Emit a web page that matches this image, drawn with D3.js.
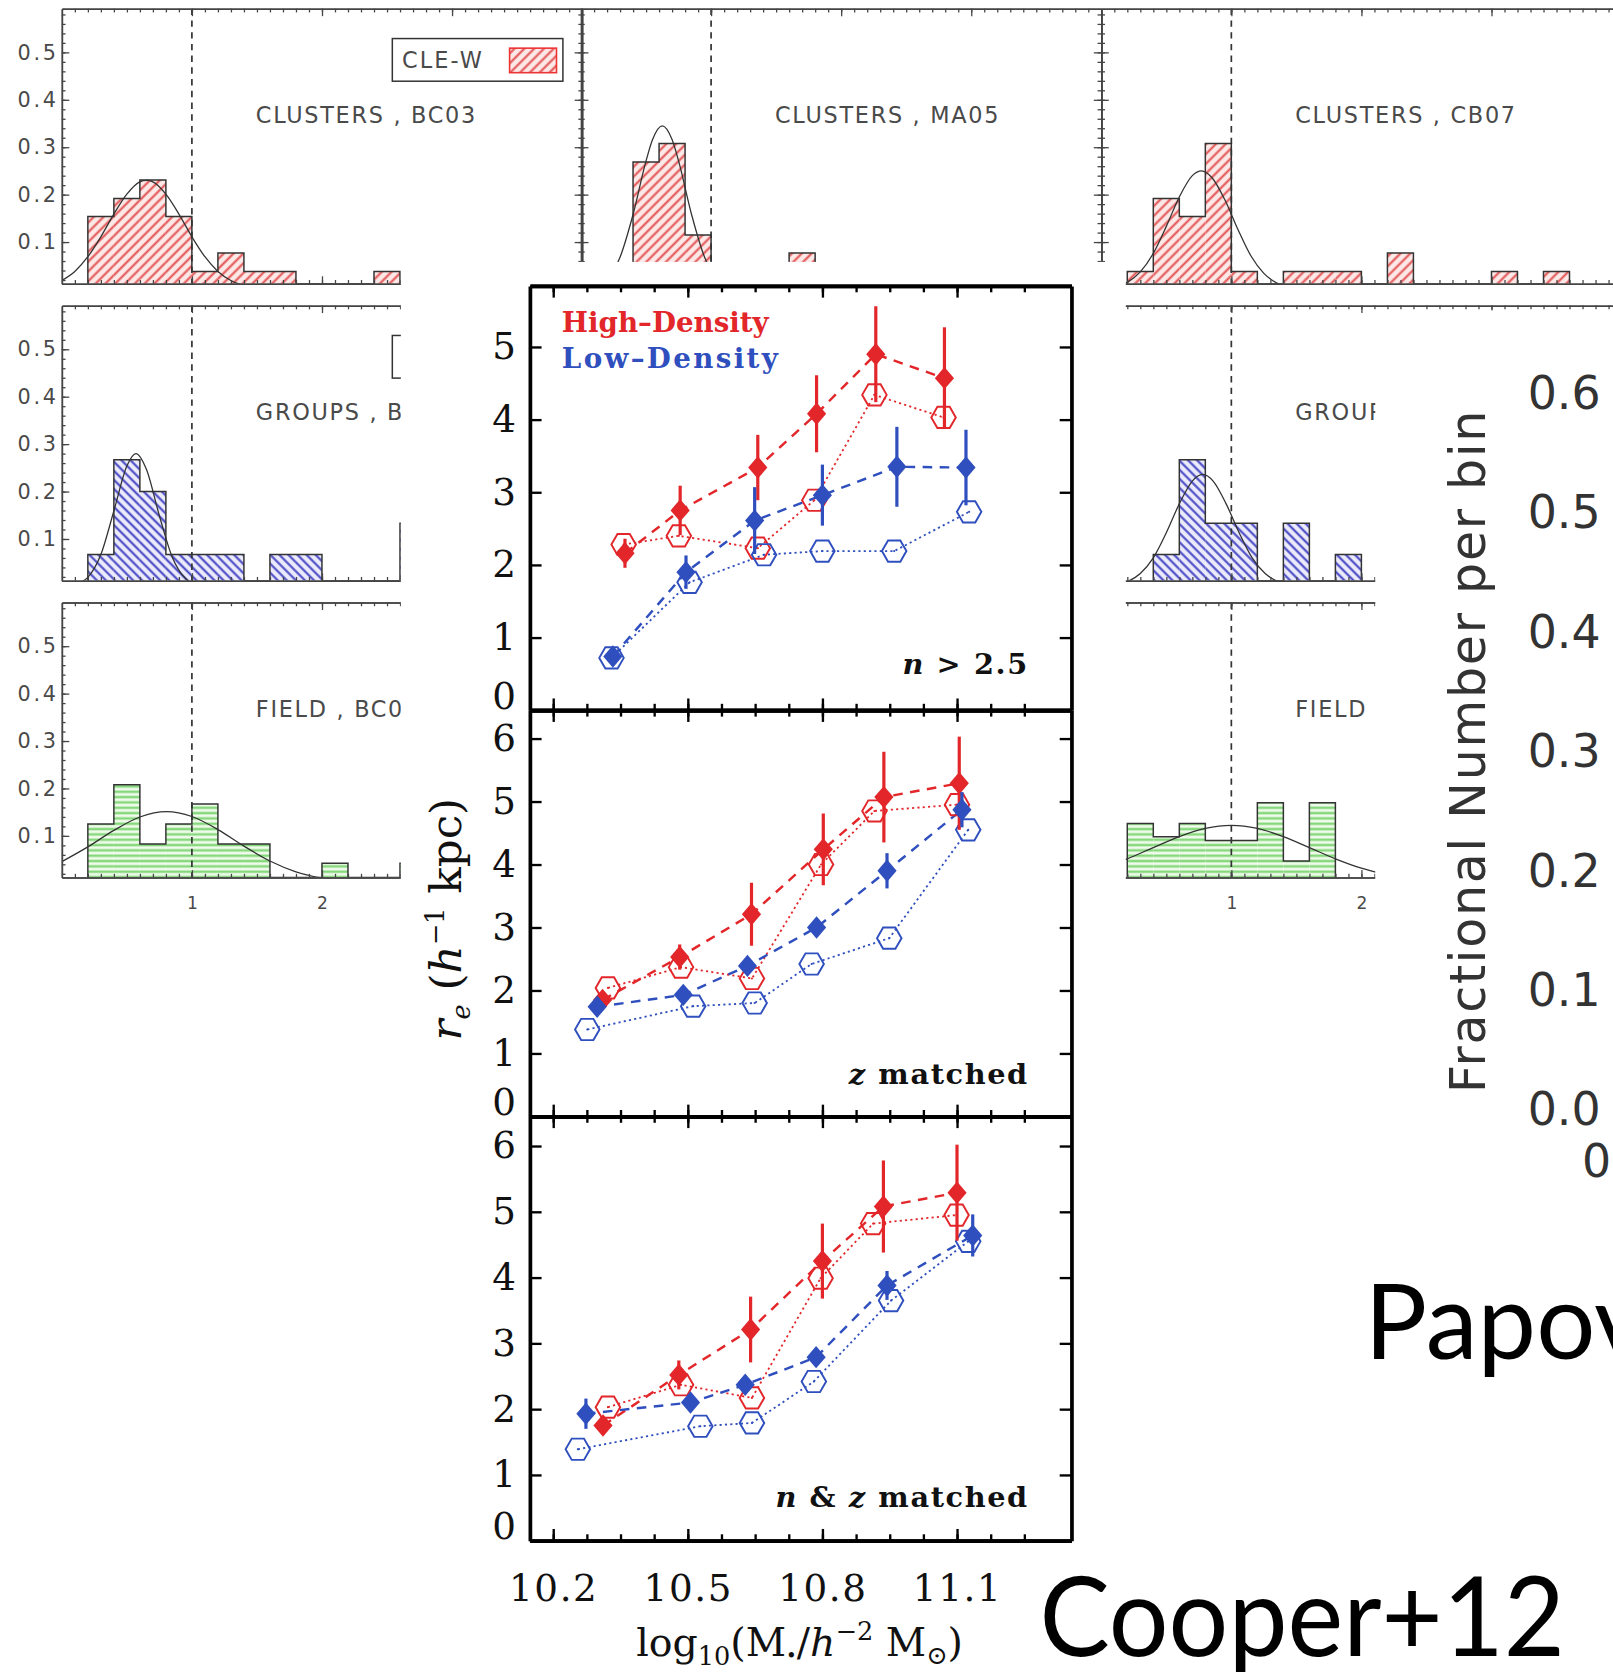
<!DOCTYPE html>
<html>
<head>
<meta charset="utf-8">
<script src="https://cdn.jsdelivr.net/npm/d3@7"></script>
<style>
body { margin: 0; background: #fff; }
svg { display: block; }
</style>
</head>
<body>
<script>
// ---------------- histogram panels (fraction per 0.2-wide bin) ----------------
var binWidth = 0.2;
var clustersBC03 = [[0.2,0.154],[0.4,0.192],[0.6,0.231],[0.8,0.154],[1.0,0.038],[1.2,0.077],[1.4,0.038],[1.6,0.038],[2.4,0.038]];
var clustersMA05 = [[0.4,0.269],[0.6,0.308],[0.8,0.115],[1.6,0.077]];
var clustersCB07 = [[0.2,0.038],[0.4,0.192],[0.6,0.154],[0.8,0.308],[1.0,0.038],[1.4,0.038],[1.6,0.038],[1.8,0.038],[2.2,0.077],[3.0,0.038],[3.4,0.038]];
var groupsBC03 = [[0.2,0.067],[0.4,0.267],[0.6,0.2],[0.8,0.067],[1.0,0.067],[1.2,0.067],[1.6,0.067],[1.8,0.067],[2.6,0.133]];
var groupsCB07 = [[0.4,0.067],[0.6,0.267],[0.8,0.133],[1.0,0.133],[1.4,0.133],[1.8,0.067]];
var fieldBC03 = [[0.2,0.125],[0.4,0.208],[0.6,0.083],[0.8,0.125],[1.0,0.167],[1.2,0.083],[1.4,0.083],[2.0,0.042],[2.6,0.042]];
var fieldCB07 = [[0.2,0.126],[0.4,0.098],[0.6,0.126],[0.8,0.09],[1.0,0.09],[1.2,0.17],[1.4,0.047],[1.6,0.17]];

// gaussian fit curves
var fitClustersBC03 = [[0,0.019],[0.1,0.038],[0.2,0.069],[0.3,0.111],[0.4,0.159],[0.5,0.201],[0.6,0.227],[0.65,0.23],[0.7,0.227],[0.8,0.201],[0.9,0.159],[1.0,0.111],[1.1,0.069],[1.2,0.038],[1.3,0.019],[1.4,0.008]];
var fitClustersMA05 = [[0.2,0.021],[0.3,0.068],[0.4,0.158],[0.5,0.271],[0.55,0.316],[0.625,0.345],[0.7,0.316],[0.75,0.271],[0.85,0.158],[0.95,0.068],[1.05,0.021],[1.15,0.005]];
var fitClustersCB07 = [[0,0.0015],[0.1,0.005],[0.2,0.015],[0.3,0.037],[0.4,0.076],[0.5,0.133],[0.6,0.195],[0.7,0.24],[0.77,0.25],[0.85,0.236],[0.95,0.189],[1.05,0.127],[1.15,0.071],[1.25,0.034],[1.35,0.0135],[1.45,0.0045]];
var fitGroupsBC03 = [[0.15,0.009],[0.2,0.019],[0.3,0.067],[0.4,0.159],[0.5,0.254],[0.57,0.28],[0.65,0.247],[0.75,0.149],[0.85,0.061],[0.95,0.017],[1.05,0.003]];
var fitGroupsCB07 = [[0.1,0.003],[0.2,0.0098],[0.3,0.027],[0.4,0.06],[0.5,0.113],[0.6,0.174],[0.7,0.222],[0.78,0.236],[0.86,0.222],[0.96,0.174],[1.06,0.113],[1.16,0.06],[1.26,0.027],[1.36,0.0098],[1.46,0.003]];
var fitFieldBC03 = [[0,0.0456],[0.2,0.0767],[0.4,0.1115],[0.6,0.1397],[0.805,0.151],[1.0,0.1408],[1.2,0.1132],[1.4,0.0784],[1.6,0.047],[1.8,0.0242],[2.0,0.0108],[2.2,0.0041]];
var fitFieldCB07 = [[0,0.0318],[0.2,0.0516],[0.4,0.0752],[0.6,0.0984],[0.8,0.1156],[1.0,0.122],[1.2,0.1156],[1.4,0.0984],[1.6,0.0752],[1.8,0.0516],[2.0,0.0318],[2.2,0.0176],[2.4,0.0088]];

var histXTicks = [1, 2, 3];
var histYTicks = [0.1, 0.2, 0.3, 0.4, 0.5];

// ---------------- central figure: r_e vs stellar mass ----------------
// panel 1: n > 2.5
var hdFullX1 = [10.360, 10.483, 10.656, 10.787, 10.919, 11.072];
var hdFullY1 = [2.16, 2.75, 3.34, 4.08, 4.90, 4.57];
var hdFullE1 = [0.20, 0.34, 0.45, 0.53, 0.66, 0.70];
var hdOpenX1 = [10.357, 10.480, 10.656, 10.782, 10.916, 11.070];
var hdOpenY1 = [2.28, 2.40, 2.23, 2.89, 4.34, 4.03];
var ldFullX1 = [10.333, 10.496, 10.649, 10.800, 10.966, 11.120];
var ldFullY1 = [0.74, 1.90, 2.61, 2.96, 3.35, 3.34];
var ldFullE1 = [0.06, 0.23, 0.46, 0.42, 0.55, 0.52];
var ldOpenX1 = [10.330, 10.504, 10.670, 10.800, 10.960, 11.127];
var ldOpenY1 = [0.72, 1.76, 2.14, 2.19, 2.19, 2.73];
// panel 2: z matched
var hdFullX2 = [10.310, 10.482, 10.642, 10.802, 10.937, 11.105];
var hdFullY2 = [1.85, 2.53, 3.21, 4.24, 5.07, 5.29];
var hdFullE2 = [0.12, 0.20, 0.50, 0.57, 0.72, 0.74];
var hdOpenX2 = [10.322, 10.485, 10.643, 10.797, 10.916, 11.100];
var hdOpenY2 = [2.04, 2.37, 2.19, 4.00, 4.85, 4.95];
var ldFullX2 = [10.298, 10.490, 10.633, 10.787, 10.944, 11.111];
var ldFullY2 = [1.74, 1.93, 2.39, 3.00, 3.90, 4.87];
var ldFullE2 = [0.10, 0.10, 0.12, 0.12, 0.28, 0.28];
var ldOpenX2 = [10.276, 10.512, 10.649, 10.776, 10.949, 11.125];
var ldOpenY2 = [1.38, 1.75, 1.80, 2.42, 2.83, 4.55];
// panel 3: n & z matched
var hdFullX3 = [10.311, 10.480, 10.640, 10.800, 10.936, 11.100];
var hdFullY3 = [1.75, 2.52, 3.21, 4.25, 5.08, 5.29];
var hdFullE3 = [0.12, 0.22, 0.50, 0.57, 0.70, 0.73];
var hdOpenX3 = [10.322, 10.485, 10.643, 10.796, 10.913, 11.099];
var hdOpenY3 = [2.03, 2.37, 2.17, 3.99, 4.82, 4.95];
var ldFullX3 = [10.273, 10.506, 10.628, 10.786, 10.944, 11.135];
var ldFullY3 = [1.93, 2.10, 2.37, 2.79, 3.88, 4.64];
var ldFullE3 = [0.23, 0.10, 0.10, 0.12, 0.22, 0.32];
var ldOpenX3 = [10.255, 10.528, 10.643, 10.781, 10.953, 11.125];
var ldOpenY3 = [1.39, 1.74, 1.79, 2.42, 3.65, 4.55];

var massTicks = [10.2, 10.5, 10.8, 11.1];
var fracTicks = [0.0, 0.1, 0.2, 0.3, 0.4, 0.5, 0.6];

var RED = '#e2262a', BLUE = '#2f4fbe';

// everything is laid out in the coordinates of the 1513x1568 view
var svg = d3.select('body').append('svg')
	.attr('width', 1613).attr('height', 1672)
	.attr('viewBox', '0 0 1513 1568');
svg.append('rect').attr('width', 1513).attr('height', 1568).attr('fill', '#fff');

var defs = svg.append('defs');
function hatch(id, angle, gap, bg, stroke, sw) {
	var p = defs.append('pattern').attr('id', id)
		.attr('patternUnits', 'userSpaceOnUse')
		.attr('width', gap).attr('height', gap)
		.attr('patternTransform', 'rotate(' + angle + ')');
	p.append('rect').attr('width', gap).attr('height', gap).attr('fill', bg);
	p.append('line').attr('x1', gap / 2).attr('x2', gap / 2).attr('y1', 0).attr('y2', gap)
		.attr('stroke', stroke).attr('stroke-width', sw);
}
hatch('hRed', 45, 6.5, '#fde8e8', '#e25050', 1.9);
hatch('hBlue', -45, 6, '#eaeafb', '#4444c4', 1.9);
hatch('hGreen', 90, 5, '#effbea', '#86d87c', 2.3);

// ---------------- histograms ----------------
var HW = 488, HH = 258;
var hx = d3.scaleLinear().domain([0, 4]).range([0, HW]);
var hy = d3.scaleLinear().domain([0.012, 0.592]).range([HH, 0]);
var colX = [58, 545, 1033], rowY = [8, 286.5, 565];
var histGrey = '#444';

function styleAxis(a, width) {
	a.select('.domain').attr('stroke', histGrey).attr('stroke-width', width);
	a.selectAll('.tick line').attr('stroke', histGrey).attr('stroke-width', 1.2);
	a.selectAll('.tick text').attr('fill', '#4a4a4a')
		.style('font-family', 'DejaVu Sans').style('font-size', '16px');
}

function histPanel(col, row, bins, fit, fillId, label, showY, showX) {
	var g = svg.append('g').attr('transform', 'translate(' + colX[col] + ',' + rowY[row] + ')');
	var cid = 'clip' + col + row;
	g.append('clipPath').attr('id', cid).append('rect').attr('width', HW).attr('height', HH);
	var body = g.append('g').attr('clip-path', 'url(#' + cid + ')');

	body.selectAll('rect.bar').data(bins).enter().append('rect')
		.attr('class', 'bar')
		.attr('x', function (d) { return hx(d[0]); })
		.attr('width', hx(binWidth) - hx(0))
		.attr('y', function (d) { return hy(d[1]); })
		.attr('height', function (d) { return HH - hy(d[1]); })
		.attr('fill', 'url(#' + fillId + ')');

	// step outline
	var base = hy.domain()[0];
	var pts = [];
	bins.forEach(function (d, i) {
		var a = d[0], b = d[0] + binWidth;
		var prev = bins[i - 1], next = bins[i + 1];
		if (!prev || Math.abs(prev[0] + binWidth - a) > 1e-6) pts.push([a, base]);
		pts.push([a, d[1]], [b, d[1]]);
		if (!next || Math.abs(next[0] - b) > 1e-6) pts.push([b, base]);
	});
	body.append('path')
		.attr('d', d3.line().x(function (d) { return hx(d[0]); }).y(function (d) { return hy(d[1]); })(pts))
		.attr('fill', 'none').attr('stroke', '#333').attr('stroke-width', 1.4);

	body.append('path')
		.attr('d', d3.line().x(function (d) { return hx(d[0]); }).y(function (d) { return hy(d[1]); })
			.curve(d3.curveMonotoneX)(fit))
		.attr('fill', 'none').attr('stroke', '#333').attr('stroke-width', 1.2);

	body.append('line').attr('x1', hx(1)).attr('x2', hx(1)).attr('y1', 0).attr('y2', HH)
		.attr('stroke', '#333').attr('stroke-width', 1.6).attr('stroke-dasharray', '6,5');

	var xMinor = d3.range(1, 40).map(function (k) { return k / 10; });
	var yMinor = d3.range(1, 30).map(function (k) { return k / 50; });

	var b1 = g.append('g').attr('transform', 'translate(0,' + HH + ')')
		.call(d3.axisBottom(hx).tickValues(xMinor).tickSize(-3.5).tickSizeOuter(0).tickFormat(''));
	styleAxis(b1, 1.4);
	var b2 = g.append('g').attr('transform', 'translate(0,' + HH + ')')
		.call(d3.axisBottom(hx).tickValues(histXTicks).tickSize(-7).tickSizeOuter(0).tickPadding(18)
			.tickFormat(showX ? d3.format('d') : ''));
	styleAxis(b2, 1.4);
	var t1 = g.append('g').call(d3.axisTop(hx).tickValues(xMinor).tickSize(-3.5).tickSizeOuter(0).tickFormat(''));
	styleAxis(t1, 1.4);
	var t2 = g.append('g').call(d3.axisTop(hx).tickValues(histXTicks).tickSize(-7).tickSizeOuter(0).tickFormat(''));
	styleAxis(t2, 1.4);
	[[0, 'L'], [HW, 'R']].forEach(function (s) {
		var mk = s[1] === 'L' ? d3.axisLeft : d3.axisRight;
		var m1 = g.append('g').attr('transform', 'translate(' + s[0] + ',0)')
			.call(mk(hy).tickValues(yMinor).tickSize(-3.5).tickSizeOuter(0).tickFormat(''));
		styleAxis(m1, 1.4);
		var m2 = g.append('g').attr('transform', 'translate(' + s[0] + ',0)')
			.call(mk(hy).tickValues(histYTicks).tickSize(-7).tickSizeOuter(0).tickPadding(3)
				.tickFormat(showY && s[1] === 'L' ? d3.format('.1f') : ''));
		styleAxis(m2, 1.4);
		m2.selectAll('.tick text').style('font-size', '19.5px').style('letter-spacing', '2.5px');
	});

	g.append('text').attr('x', 182).attr('y', 107).text(label)
		.attr('fill', '#4a4a4a').style('font-family', 'DejaVu Sans').style('font-size', '21px')
		.style('letter-spacing', '1.6px');
	return g;
}

var h11 = histPanel(0, 0, clustersBC03, fitClustersBC03, 'hRed', 'CLUSTERS , BC03', true, false);
histPanel(1, 0, clustersMA05, fitClustersMA05, 'hRed', 'CLUSTERS , MA05', false, false);
histPanel(2, 0, clustersCB07, fitClustersCB07, 'hRed', 'CLUSTERS , CB07', false, false);
var h21 = histPanel(0, 1, groupsBC03, fitGroupsBC03, 'hBlue', 'GROUPS , BC03', true, false);
histPanel(2, 1, groupsCB07, fitGroupsCB07, 'hBlue', 'GROUPS , CB07', false, false);
histPanel(0, 2, fieldBC03, fitFieldBC03, 'hGreen', 'FIELD , BC03', true, true);
histPanel(2, 2, fieldCB07, fitFieldCB07, 'hGreen', 'FIELD , CB07', false, true);

// legend boxes
function legendBox(g, fillId, stroke, name) {
	var lg = g.append('g').attr('transform', 'translate(310,28)');
	lg.append('rect').attr('width', 160).attr('height', 40).attr('fill', '#fff')
		.attr('stroke', '#333').attr('stroke-width', 1.4);
	if (name) {
		lg.append('text').attr('x', 9).attr('y', 28).text(name)
			.attr('fill', '#4a4a4a').style('font-family', 'DejaVu Sans').style('font-size', '21px')
			.style('letter-spacing', '2px');
	}
	lg.append('rect').attr('x', 110).attr('y', 9).attr('width', 44).attr('height', 23)
		.attr('fill', 'url(#' + fillId + ')').attr('stroke', stroke).attr('stroke-width', 1.5);
}
legendBox(h11, 'hRed', '#e33', 'CLE-W');
legendBox(h21, 'hBlue', '#33c', null);

// white sheets of the pasted figures
svg.append('rect').attr('x', 376).attr('y', 245.5).attr('width', 680).attr('height', 1330).attr('fill', '#fff');
svg.append('rect').attr('x', 1290).attr('y', 291).attr('width', 230).attr('height', 1280).attr('fill', '#fff');

// ---------------- central figure ----------------
var cx = d3.scaleLinear().domain([10.148, 11.355]).range([497, 1005]);
var panels = [
	{ y: d3.scaleLinear().domain([0, 5.84]).range([666, 268]), ticks: [0, 1, 2, 3, 4, 5],
		hdF: [hdFullX1, hdFullY1, hdFullE1], hdO: [hdOpenX1, hdOpenY1],
		ldF: [ldFullX1, ldFullY1, ldFullE1], ldO: [ldOpenX1, ldOpenY1] },
	{ y: d3.scaleLinear().domain([0, 6.45]).range([1047, 666]), ticks: [0, 1, 2, 3, 4, 5, 6],
		hdF: [hdFullX2, hdFullY2, hdFullE2], hdO: [hdOpenX2, hdOpenY2],
		ldF: [ldFullX2, ldFullY2, ldFullE2], ldO: [ldOpenX2, ldOpenY2] },
	{ y: d3.scaleLinear().domain([0, 6.45]).range([1445, 1047]), ticks: [0, 1, 2, 3, 4, 5, 6],
		hdF: [hdFullX3, hdFullY3, hdFullE3], hdO: [hdOpenX3, hdOpenY3],
		ldF: [ldFullX3, ldFullY3, ldFullE3], ldO: [ldOpenX3, ldOpenY3] }
];

var serif = 'DejaVu Serif';
function diamond(x, y) {
	return 'M' + x + ',' + (y - 10.5) + 'L' + (x + 9) + ',' + y + 'L' + x + ',' + (y + 10.5) + 'L' + (x - 9) + ',' + y + 'Z';
}
function hexagon(x, y) {
	var r = 11.5, p = [];
	for (var k = 0; k < 6; k++) {
		var a = k * Math.PI / 3;
		p.push([x + r * Math.cos(a), y + r * Math.sin(a)]);
	}
	return 'M' + p.join('L') + 'Z';
}

var xMinorC = d3.range(-1, 15).map(function (k) { return 10.2 + k * 0.075; })
	.filter(function (v) { return v > 10.15 && v < 11.35; });

panels.forEach(function (p, i) {
	var g = svg.append('g');
	var y = p.y;
	var y0 = y.range()[0], y1 = y.range()[1];

	function axisStyle(a) {
		a.select('.domain').attr('stroke', '#000').attr('stroke-width', 3.5);
		a.selectAll('.tick line').attr('stroke', '#000').attr('stroke-width', 2.2);
		a.selectAll('.tick text').attr('fill', '#111').style('font-family', serif).style('font-size', '35px');
	}
	var ax;
	ax = g.append('g').attr('transform', 'translate(0,' + y0 + ')')
		.call(d3.axisBottom(cx).tickValues(xMinorC).tickSize(-6).tickSizeOuter(0).tickFormat(''));
	axisStyle(ax);
	ax = g.append('g').attr('transform', 'translate(0,' + y0 + ')')
		.call(d3.axisBottom(cx).tickValues(massTicks).tickSize(-11).tickSizeOuter(0).tickPadding(32)
			.tickFormat(i === 2 ? d3.format('.1f') : ''));
	axisStyle(ax);
	ax.selectAll('.tick text').style('letter-spacing', '1.5px');
	ax = g.append('g').attr('transform', 'translate(0,' + y1 + ')')
		.call(d3.axisTop(cx).tickValues(xMinorC).tickSize(-6).tickSizeOuter(0).tickFormat(''));
	axisStyle(ax);
	ax = g.append('g').attr('transform', 'translate(0,' + y1 + ')')
		.call(d3.axisTop(cx).tickValues(massTicks).tickSize(-11).tickSizeOuter(0).tickFormat(''));
	axisStyle(ax);
	ax = g.append('g').attr('transform', 'translate(497,0)')
		.call(d3.axisLeft(y).tickValues(p.ticks).tickSize(-11).tickSizeOuter(0).tickPadding(13).tickFormat(d3.format('d')));
	axisStyle(ax);
	ax.selectAll('.tick text').filter(function (d) { return d === 0; }).attr('y', -13);
	ax = g.append('g').attr('transform', 'translate(1005,0)')
		.call(d3.axisRight(y).tickValues(p.ticks).tickSize(-11).tickSizeOuter(0).tickFormat(''));
	axisStyle(ax);

	var line = d3.line().x(function (d) { return cx(d[0]); }).y(function (d) { return y(d[1]); });
	function pts(s) { return s[0].map(function (x, k) { return [x, s[1][k], s[2] ? s[2][k] : 0]; }); }
	var hdF = pts(p.hdF), hdO = pts(p.hdO), ldF = pts(p.ldF), ldO = pts(p.ldO);

	g.append('path').attr('d', line(hdO)).attr('fill', 'none').attr('stroke', RED)
		.attr('stroke-width', 1.7).attr('stroke-dasharray', '2,3');
	g.append('path').attr('d', line(ldO)).attr('fill', 'none').attr('stroke', BLUE)
		.attr('stroke-width', 1.7).attr('stroke-dasharray', '2,3');
	g.append('path').attr('d', line(hdF)).attr('fill', 'none').attr('stroke', RED)
		.attr('stroke-width', 2.3).attr('stroke-dasharray', '9,7');
	g.append('path').attr('d', line(ldF)).attr('fill', 'none').attr('stroke', BLUE)
		.attr('stroke-width', 2.3).attr('stroke-dasharray', '9,7');

	function open(data, color) {
		g.selectAll(null).data(data).enter().append('path')
			.attr('d', function (d) { return hexagon(cx(d[0]), y(d[1])); })
			.attr('fill', 'none').attr('stroke', color).attr('stroke-width', 1.8);
		g.selectAll(null).data(data).enter().append('circle')
			.attr('cx', function (d) { return cx(d[0]); }).attr('cy', function (d) { return y(d[1]); })
			.attr('r', 1).attr('fill', color);
	}
	function filled(data, color) {
		g.selectAll(null).data(data).enter().append('line')
			.attr('x1', function (d) { return cx(d[0]); }).attr('x2', function (d) { return cx(d[0]); })
			.attr('y1', function (d) { return y(d[1] - d[2]); }).attr('y2', function (d) { return y(d[1] + d[2]); })
			.attr('stroke', color).attr('stroke-width', 3);
		g.selectAll(null).data(data).enter().append('path')
			.attr('d', function (d) { return diamond(cx(d[0]), y(d[1])); })
			.attr('fill', color);
	}
	open(hdO, RED);
	open(ldO, BLUE);
	filled(hdF, RED);
	filled(ldF, BLUE);
});

// panel notes
function note(yb, parts) {
	var t = svg.append('text').attr('x', 965).attr('y', yb).attr('text-anchor', 'end')
		.style('font-family', serif).style('font-size', '27px').style('font-weight', 'bold')
		.style('letter-spacing', '1.5px').attr('fill', '#111');
	parts.forEach(function (s) {
		t.append('tspan').text(s[0]).style('font-style', s[1] ? 'italic' : 'normal');
	});
}
note(632, [['n', true], [' > 2.5', false]]);
note(1017, [['z', true], [' matched', false]]);
note(1413, [['n', true], [' & ', false], ['z', true], [' matched', false]]);

svg.append('text').attr('x', 527).attr('y', 311).text('High\u2013Density').attr('fill', RED)
	.style('font-family', serif).style('font-size', '26px').style('font-weight', 'bold');
svg.append('text').attr('x', 527).attr('y', 345).text('Low\u2013Density').attr('fill', BLUE)
	.style('font-family', serif).style('font-size', '26px').style('font-weight', 'bold')
	.style('letter-spacing', '2.2px');

// axis titles
var yt = svg.append('text').attr('transform', 'translate(432,862) rotate(-90)').attr('text-anchor', 'middle')
	.style('font-family', serif).style('font-size', '41px').attr('fill', '#111');
yt.append('tspan').text('r').style('font-style', 'italic');
yt.append('tspan').text('e').attr('dy', 9).style('font-size', '24px').style('font-style', 'italic');
yt.append('tspan').text(' (').attr('dy', -9);
yt.append('tspan').text('h').style('font-style', 'italic');
yt.append('tspan').text('\u22121').attr('dy', -16).style('font-size', '24px');
yt.append('tspan').text(' kpc)').attr('dy', 16);

var xt = svg.append('text').attr('x', 750).attr('y', 1553).attr('text-anchor', 'middle')
	.style('font-family', serif).style('font-size', '37px').attr('fill', '#111');
xt.append('tspan').text('log');
xt.append('tspan').text('10').attr('dy', 9).style('font-size', '24px');
xt.append('tspan').text('(M').attr('dy', -9);
xt.append('tspan').text('\u2022').attr('dy', 6).style('font-size', '17px');
xt.append('tspan').text('/').attr('dy', -6);
xt.append('tspan').text('h').style('font-style', 'italic');
xt.append('tspan').text('\u22122').attr('dy', -15).style('font-size', '24px');
xt.append('tspan').text(' M').attr('dy', 15);
xt.append('tspan').text('\u2299').attr('dy', 8).style('font-size', '24px');
xt.append('tspan').text(')').attr('dy', -8);

// ---------------- right-hand figure fragment ----------------
var fy = d3.scaleLinear().domain([0, 0.6]).range([1040, 368]);
svg.append('text').attr('transform', 'translate(1393,705) rotate(-90)').attr('text-anchor', 'middle')
	.attr('textLength', 640).attr('lengthAdjust', 'spacing')
	.text('Fractional Number per bin').attr('fill', '#333')
	.style('font-family', 'DejaVu Sans').style('font-size', '46px');
svg.selectAll('text.frac').data(fracTicks).enter().append('text')
	.attr('class', 'frac').attr('x', 1433).attr('y', function (d) { return fy(d); })
	.attr('dy', '0.36em').text(d3.format('.1f')).attr('fill', '#333')
	.style('font-family', 'DejaVu Sans').style('font-size', '43px');
svg.append('text').attr('x', 1484).attr('y', 1104).text('0').attr('fill', '#333')
	.style('font-family', 'DejaVu Sans').style('font-size', '43px');

svg.append('text').attr('x', 1280).attr('y', 1275).text('Papovich+12').attr('fill', '#000')
	.style('font-family', 'Lato').style('font-size', '98px');
svg.append('text').attr('x', 975).attr('y', 1553).text('Cooper+12').attr('fill', '#000')
	.attr('textLength', 493).attr('lengthAdjust', 'spacingAndGlyphs')
	.style('font-family', 'Lato').style('font-size', '104px');
</script>
</body>
</html>
